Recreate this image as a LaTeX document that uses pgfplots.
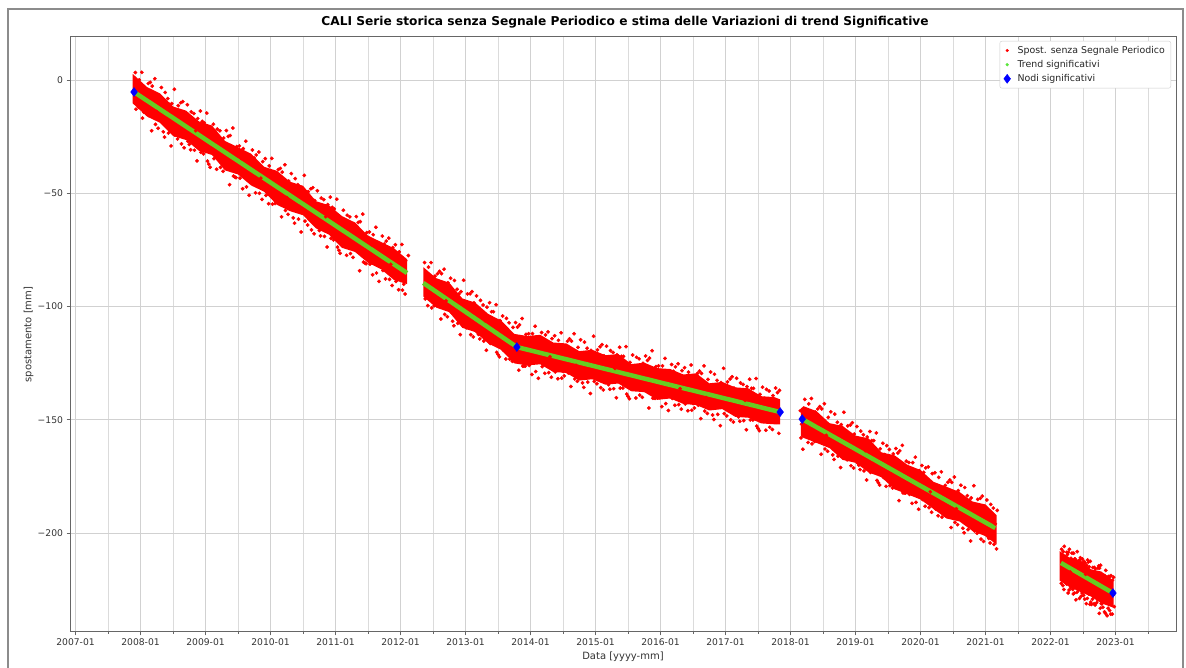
\documentclass[border=0pt]{standalone}
\usepackage{fontspec}
\setmainfont{DejaVu Sans}
\usepackage{pgfplots}
\pgfplotsset{compat=1.18}
\definecolor{trendg}{RGB}{102,204,34}
\definecolor{legg}{RGB}{90,230,60}
\definecolor{nodeb}{RGB}{0,0,255}
\begin{document}
\begin{tikzpicture}
\useasboundingbox (0,0) rectangle (1186pt,668pt);
\draw[black!45, line width=1.8pt] (8pt,-10pt) rectangle (1183pt,659pt);
\begin{axis}[
  at={(70pt,36pt)}, anchor=south west,
  scale only axis, width=1106pt, height=595pt,
  xmin=2006.915, xmax=2023.93, ymin=-243.7, ymax=19,
  xtick={2007,2008,...,2023},
  xticklabels={2007-01,2008-01,2009-01,2010-01,2011-01,2012-01,2013-01,2014-01,2015-01,2016-01,2017-01,2018-01,2019-01,2020-01,2021-01,2022-01,2023-01},
  minor xtick={2007.5,2008.5,...,2023.5},
  ytick={-200,-150,-100,-50,0},
  yticklabels={−200,−150,−100,−50,0},
  tick pos=left,
  grid=both,
  major grid style={black!18, line width=0.8pt},
  minor grid style={black!14, line width=0.8pt},
  axis line style={black!60, line width=1pt},
  tick align=outside, major tick length=3.5pt, minor tick length=2pt,
  tick style={black!60, line width=0.8pt},
  ticklabel style={font=\fontsize{9.2}{11}\selectfont, text=black!80},
  xlabel={Data [yyyy-mm]}, ylabel={spostamento [mm]},
  label style={font=\fontsize{10}{12}\selectfont, text=black!80},
  xlabel style={at={(axis description cs:0.5,0)}, anchor=north, yshift=-16pt},
  ylabel style={at={(axis description cs:0,0.5)}, anchor=south, yshift=33pt},
  title={CALI Serie storica senza Segnale Periodico e stima delle Variazioni di trend Significative},
  title style={font=\bfseries\fontsize{12.2}{14}\selectfont, at={(axis description cs:0.5,1)}, anchor=base, yshift=5pt, xshift=2pt},
  legend style={at={(1,1)}, anchor=north east, xshift=-5pt, yshift=-4pt, draw=black!20, fill=white, font=\fontsize{9.4}{11}\selectfont, rounded corners=2pt, row sep=1.5pt, inner xsep=4pt, inner ysep=3pt, text=black!85, /tikz/every odd column/.append style={column sep=5pt}},
  legend cell align=left,
  clip=true,
]
\addlegendimage{only marks, mark=*, mark size=1.4pt, red}
\addlegendentry{Spost. senza Segnale Periodico}
\addlegendimage{only marks, mark=*, mark size=1.4pt, legg}
\addlegendentry{Trend significativi}
\addlegendimage{only marks, mark=diamond*, mark size=4.5pt, nodeb}
\addlegendentry{Nodi significativi}

% ---- dense cores of the displacement cloud
\addplot[fill=red, draw=none, forget plot] coordinates {
(2007.88,2.7)(2008.1,-3.1)(2008.3,-5.9)(2008.5,-11.7)(2008.7,-13.5)(2008.9,-18.3)(2009.1,-20.1)(2009.3,-26.9)(2009.5,-29.7)(2009.7,-32.5)(2009.9,-38.3)(2010.1,-40.1)(2010.3,-44.9)(2010.5,-46.7)(2010.7,-53.5)(2010.9,-55.3)(2011.1,-60.1)(2011.3,-62.9)(2011.5,-68.7)(2011.7,-71.5)(2011.9,-74.3)(2012.1,-79.1)
(2012.1,-90.1)(2011.9,-88.3)(2011.7,-83.5)(2011.5,-80.7)(2011.3,-75.9)(2011.1,-74.1)(2010.9,-68.3)(2010.7,-65.5)(2010.5,-59.7)(2010.3,-57.9)(2010.1,-55.1)(2009.9,-49.3)(2009.7,-46.5)(2009.5,-41.7)(2009.3,-39.9)(2009.1,-33.1)(2008.9,-31.3)(2008.7,-26.5)(2008.5,-24.7)(2008.3,-18.9)(2008.1,-16.1)(2007.88,-10.3)
};
\addplot[fill=red, draw=none, forget plot] coordinates {
(2012.35,-82.6)(2012.55,-87.5)(2012.75,-89.5)(2012.95,-96.4)(2013.15,-98.3)(2013.35,-103.3)(2013.55,-106.2)(2013.75,-112.1)(2013.95,-113.0)(2014.15,-112.5)(2014.35,-115.9)(2014.55,-116.3)(2014.75,-119.7)(2014.95,-119.1)(2015.15,-121.5)(2015.35,-121.0)(2015.55,-125.4)(2015.75,-124.8)(2015.95,-127.2)(2016.15,-127.6)(2016.35,-130.0)(2016.55,-129.5)(2016.75,-133.9)(2016.95,-133.3)(2017.15,-135.7)(2017.35,-136.1)(2017.55,-139.6)(2017.75,-140.0)(2017.84,-141.0)
(2017.84,-152.0)(2017.75,-152.0)(2017.55,-151.6)(2017.35,-149.1)(2017.15,-148.7)(2016.95,-145.3)(2016.75,-145.9)(2016.55,-143.5)(2016.35,-143.0)(2016.15,-140.6)(2015.95,-141.2)(2015.75,-137.8)(2015.55,-137.4)(2015.35,-134.0)(2015.15,-134.5)(2014.95,-132.1)(2014.75,-132.7)(2014.55,-129.3)(2014.35,-128.9)(2014.15,-125.5)(2013.95,-126.0)(2013.75,-125.1)(2013.55,-119.2)(2013.35,-116.3)(2013.15,-111.3)(2012.95,-109.4)(2012.75,-102.5)(2012.55,-100.5)(2012.35,-95.6)
};
\addplot[fill=red, draw=none, forget plot] coordinates {
(2018.16,-145.0)(2018.2,-144.0)(2018.4,-146.2)(2018.6,-151.5)(2018.8,-152.7)(2019.0,-157.0)(2019.2,-158.2)(2019.4,-164.4)(2019.6,-165.7)(2019.8,-169.9)(2020.0,-172.2)(2020.2,-177.4)(2020.4,-179.6)(2020.6,-181.9)(2020.8,-186.1)(2021.0,-187.4)(2021.17,-192.1)
(2021.17,-205.1)(2021.0,-201.4)(2020.8,-199.1)(2020.6,-194.9)(2020.4,-193.6)(2020.2,-189.4)(2020.0,-185.2)(2019.8,-182.9)(2019.6,-180.7)(2019.4,-175.4)(2019.2,-173.2)(2019.0,-169.0)(2018.8,-167.7)(2018.6,-162.5)(2018.4,-160.2)(2018.2,-158.0)(2018.16,-157.0)
};
\addplot[fill=red, draw=none, forget plot] coordinates {
(2022.14,-208)(2022.3,-211)(2022.46,-212)(2022.62,-216)(2022.78,-217)(2022.97,-221)
(2022.97,-233)(2022.78,-231)(2022.62,-228)(2022.46,-226)(2022.3,-224)(2022.14,-221)
};

% ---- scattered displacement values
\addplot[only marks, mark=*, mark size=1.7pt, red, forget plot] coordinates {
(2007.92,3.3)(2008.02,3.4)(2008.12,-1.5)(2008.22,0.6)(2008.32,-3.3)(2008.42,-8.2)(2008.52,-4.1)(2008.62,-10.0)(2008.72,-10.9)(2008.82,-14.8)(2008.92,-13.7)(2009.02,-14.6)(2009.12,-19.5)(2009.22,-22.4)(2009.32,-22.3)(2009.42,-21.2)(2009.52,-29.1)(2009.62,-27.0)(2009.72,-30.9)(2009.82,-31.8)(2009.92,-34.7)(2010.02,-34.6)(2010.12,-39.5)(2010.22,-37.4)(2010.32,-41.3)(2010.42,-46.2)(2010.52,-42.1)(2010.62,-48.0)(2010.72,-48.9)(2010.82,-52.8)(2010.92,-51.7)(2011.02,-52.6)(2011.12,-57.5)(2011.22,-60.4)(2011.32,-60.3)(2011.42,-59.2)(2011.52,-67.1)(2011.62,-65.0)(2011.72,-68.9)(2011.82,-69.8)(2011.92,-72.7)(2012.02,-72.6)(2012.12,-77.5)
(2007.97,-12.0)(2008.07,-14.0)(2008.17,-22.4)(2008.27,-21.3)(2008.37,-25.2)(2008.47,-29.1)(2008.57,-26.0)(2008.67,-29.9)(2008.77,-30.8)(2008.87,-35.7)(2008.97,-32.6)(2009.07,-38.5)(2009.17,-39.4)(2009.27,-40.3)(2009.37,-46.2)(2009.47,-43.1)(2009.57,-48.0)(2009.67,-50.9)(2009.77,-49.8)(2009.87,-52.7)(2009.97,-54.6)(2010.07,-54.5)(2010.17,-60.4)(2010.27,-59.3)(2010.37,-63.2)(2010.47,-67.1)(2010.57,-64.0)(2010.67,-67.9)(2010.77,-68.8)(2010.87,-73.7)(2010.97,-70.6)(2011.07,-76.5)(2011.17,-77.4)(2011.27,-78.3)(2011.37,-84.2)(2011.47,-81.1)(2011.57,-86.0)(2011.67,-88.9)(2011.77,-87.8)(2011.87,-90.7)(2011.97,-92.6)(2012.07,-94.5)
(2007.95,-3.25)(2008.05,-14.15)(2008.15,-1.05)(2008.25,-13.95)(2008.35,-22.85)(2008.45,-10.75)(2008.55,-21.65)(2008.65,-9.55)(2008.75,-28.45)(2008.85,-22.35)(2008.95,-18.25)(2009.05,-37.15)(2009.15,-25.05)(2009.25,-33.95)(2009.35,-24.85)(2009.45,-42.75)(2009.55,-34.65)(2009.65,-43.55)(2009.75,-34.45)(2009.85,-43.35)(2009.95,-41.25)(2010.05,-52.15)(2010.15,-39.05)(2010.25,-51.95)(2010.35,-60.85)(2010.45,-48.75)(2010.55,-59.65)(2010.65,-47.55)(2010.75,-66.45)(2010.85,-60.35)(2010.95,-56.25)(2011.05,-75.15)(2011.15,-63.05)(2011.25,-71.95)(2011.35,-62.85)(2011.45,-80.75)(2011.55,-72.65)(2011.65,-81.55)(2011.75,-72.45)(2011.85,-81.35)(2011.95,-79.25)(2012.05,-90.15)
(2007.98,0.1)(2008.08,-3.8)(2008.18,-2.7)(2008.28,-6.6)(2008.38,-5.5)(2008.48,-10.4)(2008.58,-11.3)(2008.68,-15.2)(2008.78,-14.1)(2008.88,-17.0)(2008.98,-18.9)(2009.08,-22.8)(2009.18,-21.7)(2009.28,-25.6)(2009.38,-24.5)(2009.48,-29.4)(2009.58,-30.3)(2009.68,-34.2)(2009.78,-33.1)(2009.88,-36.0)(2009.98,-37.9)(2010.08,-41.8)(2010.18,-40.7)(2010.28,-44.6)(2010.38,-43.5)(2010.48,-48.4)(2010.58,-49.3)(2010.68,-53.2)(2010.78,-52.1)(2010.88,-55.0)(2010.98,-56.9)(2011.08,-60.8)(2011.18,-59.7)(2011.28,-63.6)(2011.38,-62.5)(2011.48,-67.4)(2011.58,-68.3)(2011.68,-72.2)(2011.78,-71.1)(2011.88,-74.0)(2011.98,-75.9)(2012.08,-79.8)
(2007.93,-12.9)(2008.03,-16.8)(2008.13,-15.7)(2008.23,-19.6)(2008.33,-18.5)(2008.43,-23.4)(2008.53,-24.3)(2008.63,-28.2)(2008.73,-27.1)(2008.83,-31.0)(2008.93,-31.9)(2009.03,-35.8)(2009.13,-34.7)(2009.23,-38.6)(2009.33,-37.5)(2009.43,-42.4)(2009.53,-43.3)(2009.63,-47.2)(2009.73,-46.1)(2009.83,-50.0)(2009.93,-50.9)(2010.03,-54.8)(2010.13,-53.7)(2010.23,-57.6)(2010.33,-56.5)(2010.43,-61.4)(2010.53,-62.3)(2010.63,-66.2)(2010.73,-65.1)(2010.83,-69.0)(2010.93,-69.9)(2011.03,-73.8)(2011.13,-72.7)(2011.23,-76.6)(2011.33,-75.5)(2011.43,-80.4)(2011.53,-81.3)(2011.63,-85.2)(2011.73,-84.1)(2011.83,-88.0)(2011.93,-88.9)(2012.03,-92.8)
};
\addplot[only marks, mark=*, mark size=1.7pt, red, forget plot] coordinates {
(2012.37,-80.6)(2012.47,-80.6)(2012.57,-85.5)(2012.67,-83.5)(2012.77,-87.5)(2012.87,-92.4)(2012.97,-88.4)(2013.07,-94.4)(2013.17,-95.3)(2013.27,-99.3)(2013.37,-98.3)(2013.47,-99.2)(2013.57,-104.2)(2013.67,-107.2)(2013.77,-107.1)(2013.87,-105.3)(2013.97,-112.0)(2014.07,-108.7)(2014.17,-111.5)(2014.27,-111.2)(2014.37,-112.9)(2014.47,-111.6)(2014.57,-115.3)(2014.67,-112.0)(2014.77,-114.7)(2014.87,-118.4)(2014.97,-113.1)(2015.07,-117.8)(2015.17,-117.5)(2015.27,-120.3)(2015.37,-118.0)(2015.47,-117.7)(2015.57,-121.4)(2015.67,-123.1)(2015.77,-121.8)(2015.87,-119.5)(2015.97,-126.2)(2016.07,-122.9)(2016.17,-125.6)(2016.27,-125.3)(2016.37,-127.0)(2016.47,-125.8)(2016.57,-129.5)(2016.67,-126.2)(2016.77,-128.9)(2016.87,-132.6)(2016.97,-127.3)(2017.07,-132.0)(2017.17,-131.7)(2017.27,-134.4)(2017.37,-132.1)(2017.47,-131.8)(2017.57,-135.6)(2017.67,-137.3)(2017.77,-136.0)
(2012.42,-99.6)(2012.52,-99.6)(2012.62,-105.5)(2012.72,-104.5)(2012.82,-108.5)(2012.92,-112.4)(2013.02,-109.4)(2013.12,-113.4)(2013.22,-114.3)(2013.32,-119.3)(2013.42,-116.3)(2013.52,-122.2)(2013.62,-123.2)(2013.72,-124.2)(2013.82,-128.1)(2013.92,-126.3)(2014.02,-130.0)(2014.12,-131.7)(2014.22,-129.5)(2014.32,-131.2)(2014.42,-131.9)(2014.52,-130.6)(2014.62,-135.3)(2014.72,-133.0)(2014.82,-135.7)(2014.92,-138.4)(2015.02,-134.1)(2015.12,-136.8)(2015.22,-136.5)(2015.32,-140.3)(2015.42,-136.0)(2015.52,-140.7)(2015.62,-140.4)(2015.72,-140.1)(2015.82,-144.8)(2015.92,-140.5)(2016.02,-144.2)(2016.12,-145.9)(2016.22,-143.6)(2016.32,-145.3)(2016.42,-146.0)(2016.52,-144.8)(2016.62,-149.5)(2016.72,-147.2)(2016.82,-149.9)(2016.92,-152.6)(2017.02,-148.3)(2017.12,-151.0)(2017.22,-150.7)(2017.32,-154.4)(2017.42,-150.1)(2017.52,-154.8)(2017.62,-154.6)(2017.72,-154.3)(2017.82,-156.0)
(2012.40,-86.6)(2012.50,-97.6)(2012.60,-84.5)(2012.70,-97.5)(2012.80,-106.5)(2012.90,-94.4)(2013.00,-105.4)(2013.10,-93.4)(2013.20,-112.3)(2013.30,-106.3)(2013.40,-102.3)(2013.50,-121.2)(2013.60,-109.2)(2013.70,-118.2)(2013.80,-109.1)(2013.90,-126.3)(2014.00,-117.0)(2014.10,-124.7)(2014.20,-114.5)(2014.30,-122.2)(2014.40,-118.9)(2014.50,-128.6)(2014.60,-114.3)(2014.70,-126.0)(2014.80,-133.7)(2014.90,-120.4)(2015.00,-130.1)(2015.10,-116.8)(2015.20,-134.5)(2015.30,-127.3)(2015.40,-122.0)(2015.50,-139.7)(2015.60,-126.4)(2015.70,-134.1)(2015.80,-123.8)(2015.90,-140.5)(2016.00,-131.2)(2016.10,-138.9)(2016.20,-128.6)(2016.30,-136.3)(2016.40,-133.0)(2016.50,-142.8)(2016.60,-128.5)(2016.70,-140.2)(2016.80,-147.9)(2016.90,-134.6)(2017.00,-144.3)(2017.10,-131.0)(2017.20,-148.7)(2017.30,-141.4)(2017.40,-136.1)(2017.50,-153.8)(2017.60,-140.6)(2017.70,-148.3)(2017.80,-138.0)
(2012.43,-82.6)(2012.53,-86.6)(2012.63,-85.5)(2012.73,-89.5)(2012.83,-88.5)(2012.93,-93.4)(2013.03,-94.4)(2013.13,-98.4)(2013.23,-97.3)(2013.33,-100.3)(2013.43,-102.3)(2013.53,-106.2)(2013.63,-105.2)(2013.73,-109.2)(2013.83,-108.1)(2013.93,-112.3)(2014.03,-112.0)(2014.13,-114.7)(2014.23,-112.5)(2014.33,-114.2)(2014.43,-114.9)(2014.53,-117.6)(2014.63,-115.3)(2014.73,-118.0)(2014.83,-115.7)(2014.93,-119.4)(2015.03,-119.1)(2015.13,-121.8)(2015.23,-119.5)(2015.33,-121.3)(2015.43,-122.0)(2015.53,-124.7)(2015.63,-122.4)(2015.73,-125.1)(2015.83,-122.8)(2015.93,-126.5)(2016.03,-126.2)(2016.13,-128.9)(2016.23,-126.6)(2016.33,-128.3)(2016.43,-129.0)(2016.53,-131.8)(2016.63,-129.5)(2016.73,-132.2)(2016.83,-129.9)(2016.93,-133.6)(2017.03,-133.3)(2017.13,-136.0)(2017.23,-133.7)(2017.33,-135.4)(2017.43,-136.1)(2017.53,-138.8)(2017.63,-136.6)(2017.73,-139.3)(2017.83,-137.0)
(2012.38,-96.6)(2012.48,-100.6)(2012.58,-99.5)(2012.68,-103.5)(2012.78,-102.5)(2012.88,-107.4)(2012.98,-108.4)(2013.08,-112.4)(2013.18,-111.3)(2013.28,-115.3)(2013.38,-116.3)(2013.48,-120.2)(2013.58,-119.2)(2013.68,-123.2)(2013.78,-122.1)(2013.88,-126.3)(2013.98,-126.0)(2014.08,-128.7)(2014.18,-126.5)(2014.28,-129.2)(2014.38,-128.9)(2014.48,-131.6)(2014.58,-129.3)(2014.68,-132.0)(2014.78,-129.7)(2014.88,-133.4)(2014.98,-133.1)(2015.08,-135.8)(2015.18,-133.5)(2015.28,-136.3)(2015.38,-136.0)(2015.48,-138.7)(2015.58,-136.4)(2015.68,-139.1)(2015.78,-136.8)(2015.88,-140.5)(2015.98,-140.2)(2016.08,-142.9)(2016.18,-140.6)(2016.28,-143.3)(2016.38,-143.0)(2016.48,-145.8)(2016.58,-143.5)(2016.68,-146.2)(2016.78,-143.9)(2016.88,-147.6)(2016.98,-147.3)(2017.08,-150.0)(2017.18,-147.7)(2017.28,-150.4)(2017.38,-150.1)(2017.48,-152.8)(2017.58,-150.6)(2017.68,-153.3)(2017.78,-151.0)
};
\addplot[only marks, mark=*, mark size=1.7pt, red, forget plot] coordinates {
(2018.15,-146.0)(2018.16,-158.0)(2018.17,-152.0)(2018.19,-163.0)
(2018.22,-141.0)(2018.32,-140.6)(2018.42,-145.2)(2018.52,-142.9)(2018.62,-146.5)(2018.72,-151.1)(2018.82,-146.7)(2018.92,-152.3)(2019.02,-153.0)(2019.12,-156.6)(2019.22,-155.2)(2019.32,-155.8)(2019.42,-160.4)(2019.52,-163.1)(2019.62,-162.7)(2019.72,-161.3)(2019.82,-168.9)(2019.92,-166.5)(2020.02,-170.2)(2020.12,-170.8)(2020.22,-173.4)(2020.32,-173.0)(2020.42,-177.6)(2020.52,-175.3)(2020.62,-178.9)(2020.72,-183.5)(2020.82,-179.1)(2020.92,-184.7)(2021.02,-185.4)(2021.12,-189.0)
(2018.27,-160.0)(2018.37,-159.6)(2018.47,-165.2)(2018.57,-163.9)(2018.67,-167.5)(2018.77,-171.1)(2018.87,-167.7)(2018.97,-171.3)(2019.07,-172.0)(2019.17,-176.6)(2019.27,-173.2)(2019.37,-178.8)(2019.47,-179.4)(2019.57,-180.1)(2019.67,-185.7)(2019.77,-182.3)(2019.87,-186.9)(2019.97,-189.5)(2020.07,-188.2)(2020.17,-190.8)(2020.27,-192.4)(2020.37,-192.0)(2020.47,-197.6)(2020.57,-196.3)(2020.67,-199.9)(2020.77,-203.5)(2020.87,-200.1)(2020.97,-203.7)(2021.07,-204.4)(2021.17,-207.0)
(2018.25,-147.0)(2018.35,-157.6)(2018.45,-144.2)(2018.55,-156.9)(2018.65,-165.5)(2018.75,-153.1)(2018.85,-163.7)(2018.95,-151.3)(2019.05,-170.0)(2019.15,-163.6)(2019.25,-159.2)(2019.35,-177.8)(2019.45,-165.4)(2019.55,-174.1)(2019.65,-164.7)(2019.75,-182.3)(2019.85,-173.9)(2019.95,-182.5)(2020.05,-173.2)(2020.15,-181.8)(2020.25,-179.4)(2020.35,-190.0)(2020.45,-176.6)(2020.55,-189.3)(2020.65,-197.9)(2020.75,-185.5)(2020.85,-196.1)(2020.95,-183.7)(2021.05,-202.4)(2021.15,-196.0)
(2018.28,-143.0)(2018.38,-146.6)(2018.48,-145.2)(2018.58,-148.9)(2018.68,-147.5)(2018.78,-152.1)(2018.88,-152.7)(2018.98,-156.3)(2019.08,-155.0)(2019.18,-157.6)(2019.28,-159.2)(2019.38,-162.8)(2019.48,-161.4)(2019.58,-165.1)(2019.68,-163.7)(2019.78,-168.3)(2019.88,-168.9)(2019.98,-172.5)(2020.08,-171.2)(2020.18,-173.8)(2020.28,-175.4)(2020.38,-179.0)(2020.48,-177.6)(2020.58,-181.3)(2020.68,-179.9)(2020.78,-184.5)(2020.88,-185.1)(2020.98,-188.7)(2021.08,-187.4)(2021.18,-190.0)
(2018.23,-157.0)(2018.33,-160.6)(2018.43,-159.2)(2018.53,-162.9)(2018.63,-161.5)(2018.73,-166.1)(2018.83,-166.7)(2018.93,-170.3)(2019.03,-169.0)(2019.13,-172.6)(2019.23,-173.2)(2019.33,-176.8)(2019.43,-175.4)(2019.53,-179.1)(2019.63,-177.7)(2019.73,-182.3)(2019.83,-182.9)(2019.93,-186.5)(2020.03,-185.2)(2020.13,-188.8)(2020.23,-189.4)(2020.33,-193.0)(2020.43,-191.6)(2020.53,-195.3)(2020.63,-193.9)(2020.73,-198.5)(2020.83,-199.1)(2020.93,-202.7)(2021.03,-201.4)(2021.13,-205.0)
};
\addplot[only marks, mark=*, mark size=1.7pt, red, forget plot] coordinates {
(2022.17,-207.2)(2022.21,-205.9)(2022.25,-208.5)(2022.29,-207.2)(2022.33,-208.9)(2022.37,-211.5)(2022.41,-208.2)(2022.45,-211.9)(2022.49,-211.5)(2022.53,-213.2)(2022.57,-211.9)(2022.61,-212.5)(2022.65,-215.2)(2022.69,-215.8)(2022.73,-215.5)(2022.77,-214.2)(2022.81,-218.8)(2022.85,-216.5)(2022.89,-219.2)(2022.93,-218.8)(2022.97,-219.5)
(2022.19,-223.2)(2022.23,-221.9)(2022.27,-226.5)(2022.31,-224.2)(2022.35,-226.9)(2022.39,-229.5)(2022.43,-225.2)(2022.47,-227.9)(2022.51,-227.5)(2022.55,-231.2)(2022.59,-226.9)(2022.63,-231.5)(2022.67,-231.2)(2022.71,-230.8)(2022.75,-235.5)(2022.79,-231.2)(2022.83,-234.8)(2022.87,-236.5)(2022.91,-234.2)(2022.95,-235.8)(2022.98,-232.5)
(2022.18,-210.2)(2022.22,-219.9)(2022.26,-209.5)(2022.30,-217.2)(2022.34,-224.9)(2022.38,-211.5)(2022.42,-221.2)(2022.46,-210.9)(2022.50,-225.5)(2022.54,-218.2)(2022.58,-212.9)(2022.62,-230.5)(2022.66,-217.2)(2022.70,-224.8)(2022.74,-214.5)(2022.78,-231.2)(2022.82,-221.8)(2022.86,-229.5)(2022.90,-219.2)(2022.94,-226.8)(2022.96,-227.5)
(2022.195,-208.2)(2022.235,-210.9)(2022.275,-208.5)(2022.315,-211.2)(2022.355,-208.9)(2022.395,-212.5)(2022.435,-212.2)(2022.475,-214.9)(2022.515,-212.5)(2022.555,-214.2)(2022.595,-214.9)(2022.635,-217.5)(2022.675,-215.2)(2022.715,-217.8)(2022.755,-215.5)(2022.795,-219.2)(2022.835,-218.8)(2022.875,-221.5)(2022.915,-219.2)(2022.955,-220.8)
(2022.165,-222.2)(2022.205,-224.9)(2022.245,-222.5)(2022.285,-225.2)(2022.325,-222.9)(2022.365,-226.5)(2022.405,-226.2)(2022.445,-228.9)(2022.485,-226.5)(2022.525,-229.2)(2022.565,-228.9)(2022.605,-231.5)(2022.645,-229.2)(2022.685,-231.8)(2022.725,-229.5)(2022.765,-233.2)(2022.805,-232.8)(2022.845,-235.5)(2022.885,-233.2)(2022.925,-235.8)
};

% ---- significant trends
\addplot[trendg, line width=4.5pt, forget plot] coordinates {(2007.9,-5.3)(2012.1,-85.2)};
\addplot[trendg, line width=4.5pt, forget plot] coordinates {(2012.35,-89.6)(2013.79,-117.9)(2017.84,-146.6)};
\addplot[trendg, line width=4.5pt, forget plot] coordinates {(2018.18,-149.7)(2021.15,-197.8)};
\addplot[trendg, line width=4.5pt, forget plot] coordinates {(2022.16,-213.2)(2022.96,-226.5)};

% ---- significant nodes
\addplot[only marks, mark=diamond*, mark size=4.5pt, nodeb, forget plot] coordinates {
(2007.9,-5.3)(2013.79,-117.9)(2017.84,-146.6)(2018.18,-149.7)(2022.96,-226.5)
};
\end{axis}
\end{tikzpicture}
\end{document}
